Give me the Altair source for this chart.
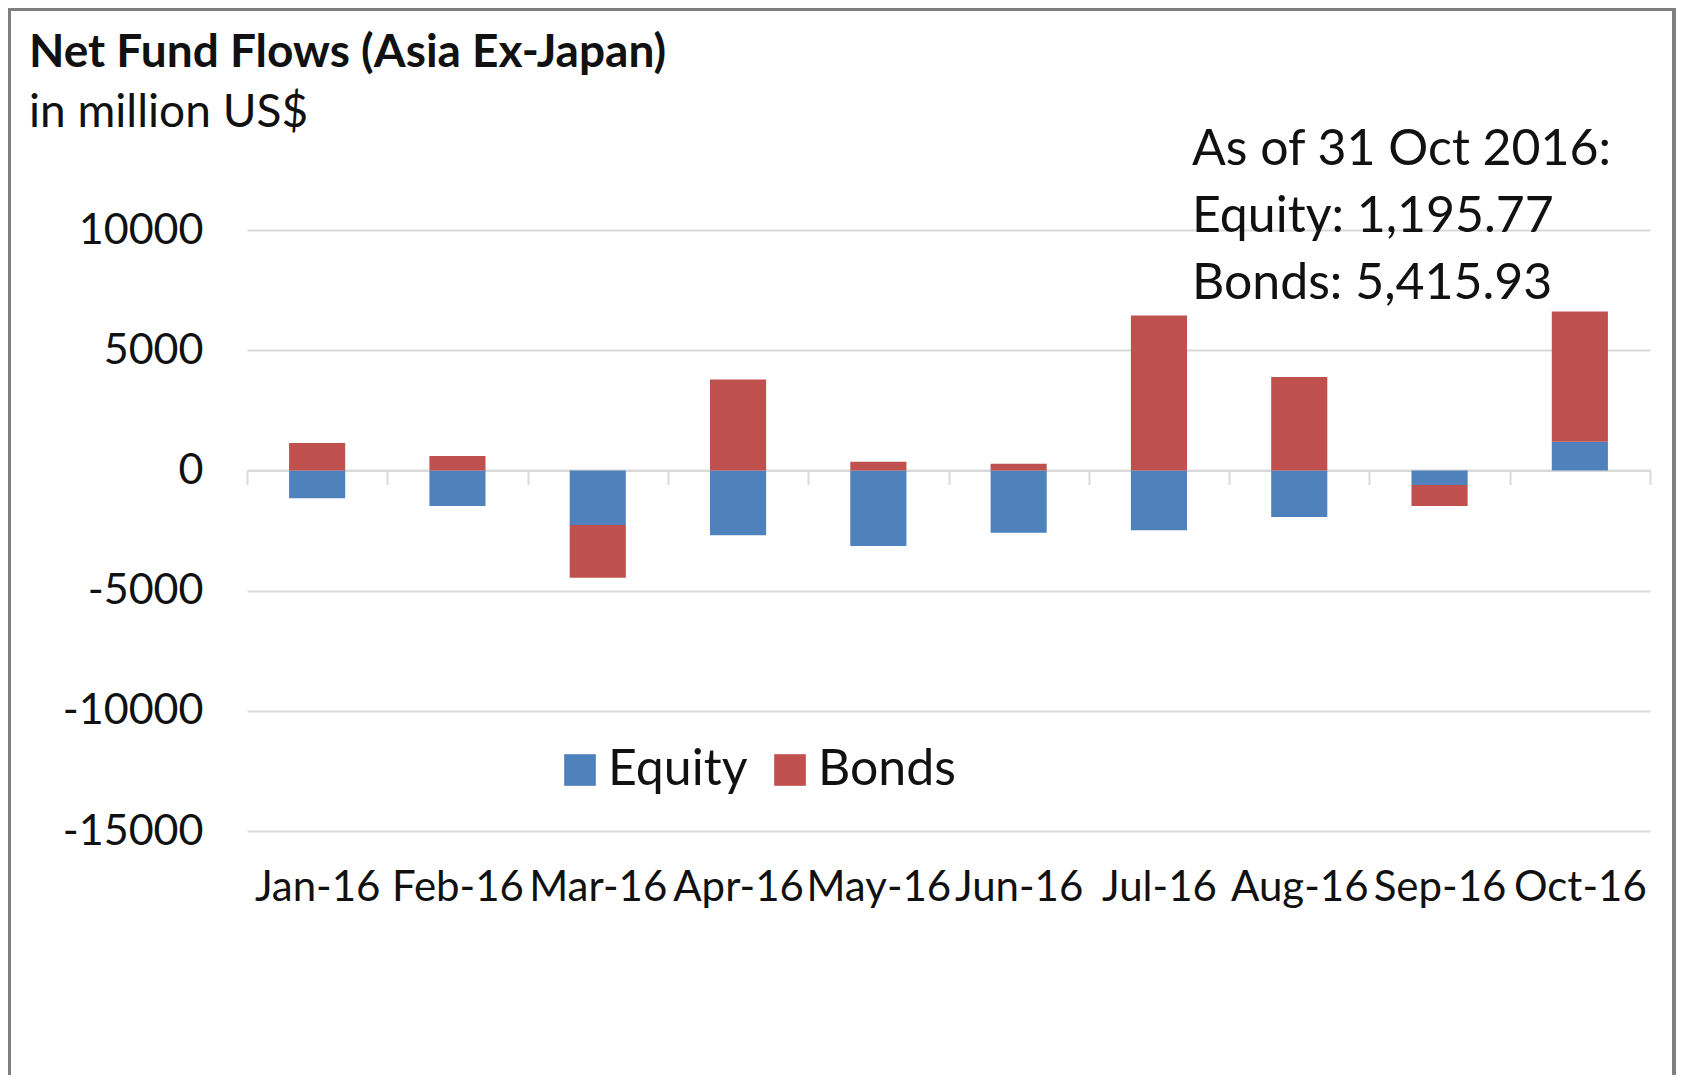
import altair as alt
import pandas as pd

# ---- data ----
months = ["Jan-16", "Feb-16", "Mar-16", "Apr-16", "May-16",
          "Jun-16", "Jul-16", "Aug-16", "Sep-16", "Oct-16"]
equity = [-1160, -1480, -2270, -2700, -3140, -2590, -2490, -1940, -610, 1195.77]
bonds = [1140, 600, -2200, 3780, 360, 280, 6440, 3890, -870, 5415.93]
series = ["Equity", "Bonds"]
colors = ["#4F81BD", "#C0504D"]
y_ticks = [-15000, -10000, -5000, 0, 5000, 10000]
y_domain = [-15000, 10000]
as_of = "31 Oct 2016"

rows = []
for i, m in enumerate(months):
    rows.append({"month": m, "series": "Equity", "value": equity[i], "order": 0})
    rows.append({"month": m, "series": "Bonds", "value": bonds[i], "order": 1})
df = pd.DataFrame(rows)

W, H = 1403, 601
zero_offset = -H * (0 - y_domain[0]) / (y_domain[1] - y_domain[0])

FONT = "Lato"
GRID = "#d9d9d9"
INK = "#111111"

bars = alt.Chart(df).mark_bar(width=alt.RelativeBandSize(0.4)).encode(
    x=alt.X(
        "month:N", sort=months,
        scale=alt.Scale(paddingInner=0, paddingOuter=0),
        axis=alt.Axis(
            title=None, orient="bottom", offset=zero_offset,
            domainColor=GRID, domainWidth=2,
            tickColor=GRID, tickWidth=2, tickSize=14, tickBand="extent",
            labelPadding=416, labelFont=FONT, labelFontSize=42,
            labelColor=INK, labelBaseline="alphabetic",
            labelOverlap=False, labelAngle=0, grid=False,
        ),
    ),
    y=alt.Y(
        "value:Q", stack="zero",
        scale=alt.Scale(domain=y_domain, nice=False),
        axis=alt.Axis(
            title=None, values=y_ticks, labelExpr="datum.value + ''",
            grid=True, gridColor=GRID, gridWidth=2,
            domain=False, ticks=False, tickSize=0, labelPadding=44,
            labelFont=FONT, labelFontSize=43, labelColor=INK,
        ),
    ),
    color=alt.Color(
        "series:N",
        scale=alt.Scale(domain=series, range=colors),
        legend=alt.Legend(
            title=None, orient="none", legendX=308, legendY=515,
            direction="horizontal", symbolType="square", symbolSize=1000,
            symbolStrokeWidth=0, labelFont=FONT, labelFontSize=50,
            labelColor=INK, labelOffset=3, columnPadding=17, padding=0,
        ),
    ),
    order=alt.Order("order:Q"),
)

annot_text = "As of {}:\nEquity: {:,.2f}\nBonds: {:,.2f}".format(as_of, equity[-1], bonds[-1])
annot = alt.Chart(alt.Data(values=[{}])).mark_text(
    align="left", baseline="alphabetic", font=FONT, fontSize=50,
    lineHeight=67, color=INK, lineBreak="\n",
).encode(x=alt.value(945), y=alt.value(-65), text=alt.value(annot_text))

frame = alt.Chart(alt.Data(values=[{}])).mark_rect(
    fillOpacity=0, stroke="#7f7f7f", strokeWidth=4,
).encode(
    x=alt.value(-238), x2=alt.value(1427),
    y=alt.value(-221), y2=alt.value(H + 400),
)

chart = alt.layer(frame, bars, annot).properties(
    width=W, height=H,
    autosize="none",
    padding={"left": 239, "top": 222, "right": 26, "bottom": 244},
    background="white",
    title=alt.Title(
        "Net Fund Flows (Asia Ex-Japan)", subtitle="in million US$",
        anchor="start", frame="group", dx=-218, offset=-130,
        font=FONT, fontSize=46, fontWeight="bold", color=INK,
        subtitleFont=FONT, subtitleFontSize=46, subtitleColor=INK,
        subtitlePadding=14,
    ),
).configure_view(strokeWidth=0)

chart.save("out.html", embed_options={"renderer": "svg", "actions": False})
